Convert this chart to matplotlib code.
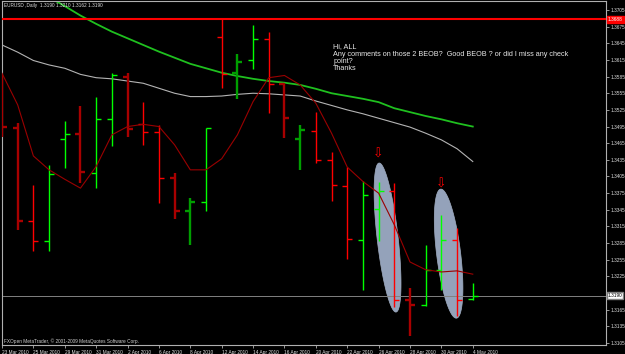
import numpy as np
import matplotlib
matplotlib.use('Agg')
import matplotlib.pyplot as plt
from matplotlib.patches import Polygon

# Daily EURUSD bars, 23 Mar 2010 .. 4 May 2010
dates = ["23 Mar 2010", "24 Mar 2010", "25 Mar 2010", "26 Mar 2010", "29 Mar 2010", "30 Mar 2010",
         "31 Mar 2010", "1 Apr 2010", "2 Apr 2010", "5 Apr 2010", "6 Apr 2010", "7 Apr 2010",
         "8 Apr 2010", "9 Apr 2010", "12 Apr 2010", "13 Apr 2010", "14 Apr 2010", "15 Apr 2010",
         "16 Apr 2010", "19 Apr 2010", "20 Apr 2010", "21 Apr 2010", "22 Apr 2010", "23 Apr 2010",
         "26 Apr 2010", "27 Apr 2010", "28 Apr 2010", "29 Apr 2010", "30 Apr 2010", "3 May 2010",
         "4 May 2010"]
opens = [1.3561, 1.3493, 1.3325, 1.3288, 1.3473, 1.3481, 1.3412, 1.3509, 1.3585, 1.3499, 1.3485,
         1.3402, 1.3342, 1.3359, 1.3656, 1.3592, 1.3614, 1.3652, 1.3571, 1.3472, 1.3487, 1.3435,
         1.3388, 1.3291, 1.3346, 1.3379, 1.3183, 1.3174, 1.3237, 1.3291, 1.3185]
highs = [1.3588, 1.3501, 1.3390, 1.3426, 1.3505, 1.3532, 1.3548, 1.3591, 1.3591, 1.3540, 1.3498,
         1.3411, 1.3366, 1.3493, 1.3690, 1.3626, 1.3678, 1.3665, 1.3573, 1.3497, 1.3522, 1.3449,
         1.3423, 1.3396, 1.3395, 1.3393, 1.3204, 1.3282, 1.3336, 1.3312, 1.3213]
lows = [1.3476, 1.3309, 1.3270, 1.3270, 1.3420, 1.3394, 1.3384, 1.3460, 1.3477, 1.3462, 1.3357,
        1.3328, 1.3282, 1.3342, 1.3564, 1.3544, 1.3598, 1.3519, 1.3474, 1.3417, 1.3429, 1.3361,
        1.3256, 1.3200, 1.3289, 1.3170, 1.3118, 1.3172, 1.3200, 1.3154, 1.3182]
closes = [1.3494, 1.3325, 1.3289, 1.3409, 1.3481, 1.3413, 1.3509, 1.3588, 1.3491, 1.3485, 1.3402,
          1.3342, 1.3359, 1.3492, 1.3590, 1.3611, 1.3652, 1.3571, 1.3510, 1.3488, 1.3435, 1.3390,
          1.3292, 1.3372, 1.3379, 1.3183, 1.3174, 1.3237, 1.3291, 1.3183, 1.3190]

# moving averages
ma_slow = [1.3777, 1.3763, 1.3745, 1.3728, 1.3712, 1.3695, 1.3680, 1.3666, 1.3654, 1.3642, 1.3630,
           1.3619, 1.3608, 1.3600, 1.3592, 1.3586, 1.3581, 1.3577, 1.3574, 1.3570, 1.3563, 1.3555,
           1.3550, 1.3545, 1.3539, 1.3528, 1.3521, 1.3514, 1.3508, 1.3501, 1.3495]
ma_mid = [1.3642, 1.3629, 1.3614, 1.3606, 1.3600, 1.3589, 1.3583, 1.3581, 1.3577, 1.3573, 1.3564,
          1.3555, 1.3549, 1.3549, 1.3550, 1.3553, 1.3555, 1.3554, 1.3552, 1.3550, 1.3541, 1.3533,
          1.3525, 1.3518, 1.3510, 1.3502, 1.3494, 1.3483, 1.3471, 1.3455, 1.3432]
ma_fast = [1.3591, 1.3534, 1.3442, 1.3417, 1.3400, 1.3384, 1.3423, 1.3480, 1.3495, 1.3499, 1.3495,
           1.3462, 1.3417, 1.3417, 1.3437, 1.3480, 1.3540, 1.3583, 1.3587, 1.3570, 1.3537, 1.3483,
           1.3422, 1.3396, 1.3375, 1.3318, 1.3251, 1.3237, 1.3233, 1.3235, 1.3229]

price_ticks = [1.3705, 1.3675, 1.3645, 1.3615, 1.3585, 1.3555, 1.3525, 1.3495, 1.3465, 1.3435,
               1.3405, 1.3375, 1.3345, 1.3315, 1.3285, 1.3255, 1.3225, 1.3165, 1.3135, 1.3105]
resistance = 1.3688
last_price = 1.3190

# the two marked bars (index, centre price) for the ellipses
marked_bars = [24.57, 28.46]
marked_price = [1.3295, 1.3266]
arrow_bars = [24, 28]
arrow_price = [1.3446, 1.3392]

comment = ("Hi, ALL\nAny comments on those 2 BEOB?  Good BEOB ? or did I miss any check\n"
           "point?\nThanks")

# bar overlay shade (thicker, darker bars)
heavy = [1, 1, 0, 0, 0, 1, 0, 0, 1, 0, 0, 1, 1, 0, 0, 1, 0, 0, 1, 1, 0, 0, 0, 0, 0, 0, 1, 0, 0, 0, 0]

W, H = 625, 354
PX_BAR = 15.7          # pixels per bar
PX_PRICE = 5550.0      # pixels per price unit

fig = plt.figure(figsize=(W / 100, H / 100), dpi=100, facecolor='black')
ax = fig.add_axes([2 / W, 1 - 345 / H, 604 / W, 344 / H], facecolor='black')
ax.set_xlim(0.019, 38.49)
ax.set_ylim(1.31014, 1.37212)

x = np.arange(len(dates))

# ellipses under everything else
for xc, pc, half_len, half_w, tilt in zip(marked_bars, marked_price, [75, 65], [10.5, 12], [6.5, 7.0]):
    t = np.linspace(0, 2 * np.pi, 200)
    a = np.radians(tilt)
    dx = half_w * np.cos(t)
    dy = half_len * np.sin(t)
    px_x = dx * np.cos(a) - dy * np.sin(a)
    px_y = dx * np.sin(a) + dy * np.cos(a)
    pts = np.column_stack([xc + px_x / PX_BAR, pc + px_y / PX_PRICE])
    ax.add_patch(Polygon(pts, closed=True, facecolor='#94A2BA', edgecolor='#A0ADC2', lw=0.5, zorder=1))

# moving averages
ax.plot(x, ma_slow, color='#1FC01F', lw=1.3, zorder=2)
ax.plot(x, ma_mid, color='#B4B4B4', lw=0.8, zorder=2)

# OHLC bars
tick = 0.32
for i in x:
    up = closes[i] >= opens[i]
    if up:
        col = '#009E00' if heavy[i] else '#00FF00'
    else:
        col = '#A80000' if heavy[i] else '#FF0000'
    lw = 1.7 if heavy[i] else 1.0
    ax.vlines(i, lows[i], highs[i], color=col, lw=lw, zorder=3)
    ax.hlines(opens[i], i - tick, i, color=col, lw=lw, zorder=3)
    ax.hlines(closes[i], i, i + tick, color=col, lw=lw, zorder=3)

ax.plot(x, ma_fast, color='#9A0000', lw=0.8, zorder=4)

# levels
ax.axhline(resistance, color='#FF0000', lw=1.5, zorder=5)
ax.axhline(last_price, color='#808080', lw=0.7, zorder=2)

# arrows above the marked bars
for xa, ya in zip(arrow_bars, arrow_price):
    ax.text(xa, ya, '\u21e9', color='#FF0000', fontsize=9, ha='center', va='center',
            family='DejaVu Sans', zorder=6)

ax.text(21.1, 1.3645, comment, color='#E8E8E8', fontsize=5.2, family='Liberation Sans',
        va='top', ha='left', linespacing=1.05, zorder=6)

# frame and axes
for s in ax.spines.values():
    s.set_color('#B0B0B0')
    s.set_linewidth(0.8)
ax.yaxis.tick_right()
ax.set_yticks(price_ticks)
ax.set_yticklabels(['{:.4f}'.format(p) for p in price_ticks])
ax.set_xticks(x[::2])
ax.set_xticklabels(dates[::2], ha='left')
ax.tick_params(axis='both', colors='#B0B0B0', labelcolor='#E0E0E0', labelsize=3.4,
               length=2.5, width=0.6, pad=1)
for lab in ax.get_xticklabels() + ax.get_yticklabels():
    lab.set_family('Liberation Sans')

ytr = ax.get_yaxis_transform()
ax.text(1.003, resistance, '{:.4f}'.format(resistance), transform=ytr, color='white',
        fontsize=3.4, family='Liberation Sans', va='center', ha='left',
        bbox=dict(facecolor='#FF0000', edgecolor='#FF0000', pad=0.6), zorder=7)
ax.text(1.003, last_price, '{:.4f}'.format(last_price), transform=ytr, color='black',
        fontsize=3.4, family='Liberation Sans', va='center', ha='left',
        bbox=dict(facecolor='white', edgecolor='#808080', pad=0.6), zorder=7)

fig.text(4 / W, 1 - 5 / H, 'EURUSD ,Daily  1.3190 1.3210 1.3162 1.3190', color='#E0E0E0',
         fontsize=3.4, family='Liberation Sans', va='center')
fig.text(4 / W, 1 - 341 / H, 'FXOpen MetaTrader, \u00a9 2001-2009 MetaQuotes Software Corp.',
         color='#D0D0D0', fontsize=3.4, family='Liberation Sans', va='center')

fig.savefig('out.png', dpi=100, facecolor='black')
